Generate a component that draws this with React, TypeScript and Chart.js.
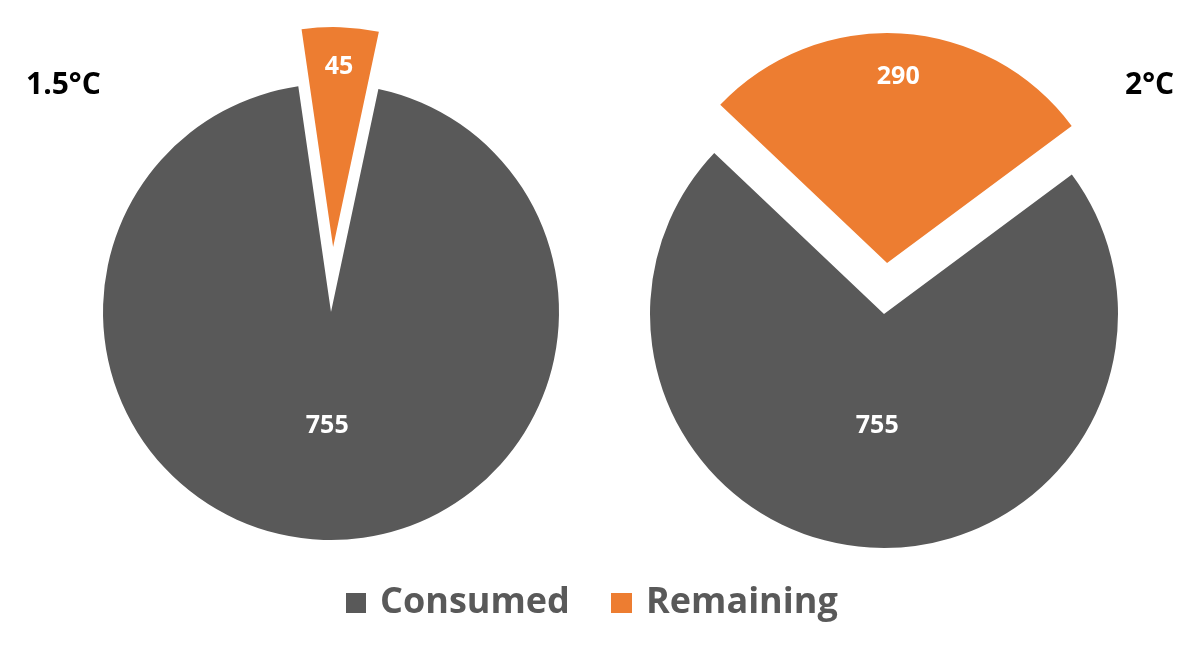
import React, { useEffect, useRef } from "react";
import { Chart, registerables } from "chart.js";

Chart.register(...registerables);

const categories = ["Consumed", "Remaining"];
const values15 = [755, 45];
const values20 = [755, 290];
const titles = ["1.5°C", "2°C"];
const colors = ["#595959", "#ED7D31"];

const FONT = "'Open Sans', 'Noto Sans', sans-serif";

type PieSpec = {
  values: number[];
  rotation: number;
  radius: number;
  offsets: number[]; // explode distance of each slice, px
  shrink: number[];
  fracs: number[];
  width: number;
  height: number;
  left: number;
  top: number;
};

function slicePlugin(spec: PieSpec) {
  return {
    id: "sliceExplodeLabels",
    afterDatasetsUpdate(chart: any) {
      const meta = chart.getDatasetMeta(0);
      const base = meta.controller.outerRadius;
      meta.data.forEach((arc: any, i: number) => {
        const mid = (arc.startAngle + arc.endAngle) / 2;
        const off = spec.offsets[i] || 0;
        arc.x = arc.x + Math.cos(mid) * off;
        arc.y = arc.y + Math.sin(mid) * off;
        arc.outerRadius = base - (spec.shrink[i] || 0);
      });
    },
    afterDatasetsDraw(chart: any) {
      const meta = chart.getDatasetMeta(0);
      const ctx = chart.ctx;
      const data = chart.data.datasets[0].data as number[];
      ctx.save();
      ctx.fillStyle = "#ffffff";
      ctx.font = `bold 25px ${FONT}`;
      ctx.textAlign = "center";
      ctx.textBaseline = "middle";
      meta.data.forEach((arc: any, i: number) => {
        const p = arc.getProps(["x", "y", "startAngle", "endAngle", "outerRadius"], true);
        const mid = (p.startAngle + p.endAngle) / 2;
        const r = spec.fracs[i] * p.outerRadius;
        ctx.fillText(String(data[i]), p.x + Math.cos(mid) * r, p.y + Math.sin(mid) * r);
      });
      ctx.restore();
    },
  };
}

function Pie({ spec }: { spec: PieSpec }) {
  const ref = useRef<HTMLCanvasElement | null>(null);
  useEffect(() => {
    if (!ref.current) return;
    const chart = new Chart(ref.current, {
      type: "pie",
      data: {
        labels: categories,
        datasets: [
          {
            data: spec.values,
            backgroundColor: colors,
            borderWidth: 0,
          } as any,
        ],
      },
      options: {
        responsive: false,
        animation: false,
        rotation: spec.rotation,
        radius: spec.radius,
        layout: { padding: 0 },
        datasets: { pie: { radius: spec.radius } } as any,
        plugins: {
          legend: { display: false },
          tooltip: { enabled: false },
        },
      } as any,
      plugins: [slicePlugin(spec)],
    });
    return () => chart.destroy();
  }, []);
  return (
    <canvas
      ref={ref}
      width={spec.width}
      height={spec.height}
      style={{
        position: "absolute",
        left: spec.left,
        top: spec.top,
        width: spec.width,
        height: spec.height,
      }}
    />
  );
}

const leftSpec: PieSpec = {
  values: values15,
  rotation: 12,
  radius: 228,
  offsets: [0, 65],
  shrink: [0, 8],
  fracs: [0.5, 0.82],
  width: 662,
  height: 624,
  left: 0,
  top: 0,
};

const rightSpec: PieSpec = {
  values: values20,
  rotation: 53.4,
  radius: 234,
  offsets: [0, 51],
  shrink: [0, 4],
  fracs: [0.48, 0.81],
  width: 600,
  height: 628,
  left: 584,
  top: 0,
};

const textBase: React.CSSProperties = {
  position: "absolute",
  fontFamily: FONT,
  fontWeight: 700,
  whiteSpace: "nowrap",
};

export default function App() {
  return (
    <div
      style={{
        position: "fixed",
        left: 0,
        top: 0,
        width: 1200,
        height: 651,
        background: "#ffffff",
        overflow: "hidden",
      }}
    >
      <Pie spec={leftSpec} />
      <Pie spec={rightSpec} />
      <div style={{ ...textBase, left: 26, top: 68, fontSize: 30, lineHeight: "30px", color: "#000" }}>
        {titles[0]}
      </div>
      <div style={{ ...textBase, left: 1125, top: 68, fontSize: 30, lineHeight: "30px", color: "#000" }}>
        {titles[1]}
      </div>
      <div style={{ ...textBase, left: 346, top: 593, width: 20, height: 20, background: colors[0] }} />
      <div style={{ ...textBase, left: 380, top: 582, fontSize: 36, lineHeight: "36px", color: "#595959" }}>
        {categories[0]}
      </div>
      <div style={{ ...textBase, left: 611, top: 593, width: 21, height: 20, background: colors[1] }} />
      <div style={{ ...textBase, left: 646, top: 582, fontSize: 36, lineHeight: "36px", color: "#595959" }}>
        {categories[1]}
      </div>
    </div>
  );
}
